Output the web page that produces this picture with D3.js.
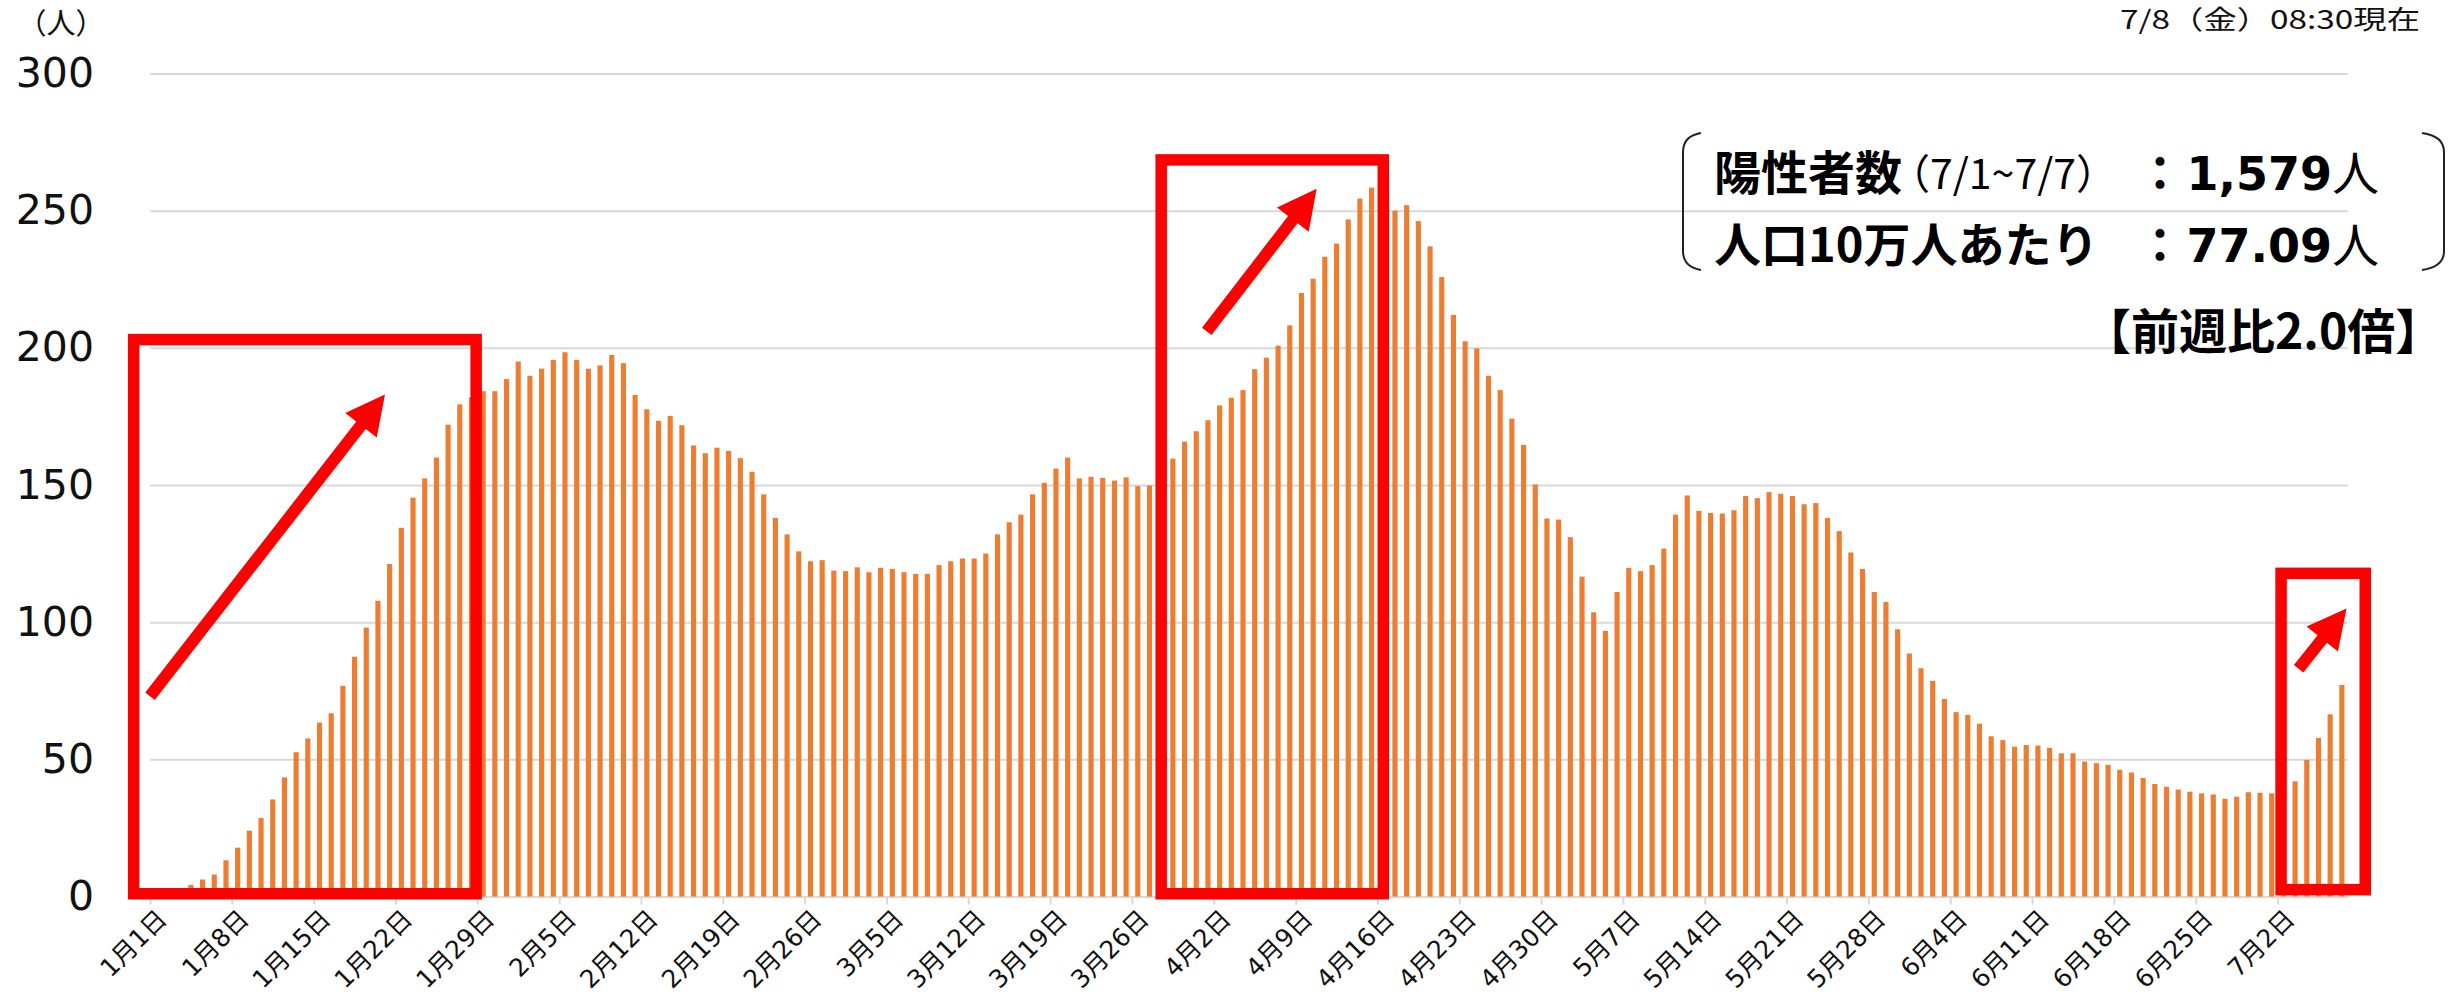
<!DOCTYPE html>
<html>
<head>
<meta charset="utf-8">
<script src="https://cdn.jsdelivr.net/npm/d3@7"></script>
<style>
	body { margin: 0; background: #fff; }
	svg { display: block; }
</style>
</head>
<body>
<script>
// weekly positives per 100k, one value per day
var jan = [2, 2.4, 3, 4.2, 6.2, 8, 13.2, 17.8, 24, 28.6, 35.4, 43.4, 52.6, 57.6, 63.4, 66.8, 76.8, 87.4, 98, 107.8,
	121.2, 134.4, 145.4, 152.4, 160, 172, 179.4, 182, 184.2, 184.2, 188.6];
var feb = [195, 189.8, 192.4, 195.6, 198.4, 195.6, 192.4, 193.6, 197.4, 194.4, 182.8, 177.6, 173.4, 175.2, 171.8,
	164.4, 161.6, 163.6, 162.4, 159.8, 154.8, 146.6, 138, 132, 125.8, 122.2, 122.6, 118.8];
var mar = [118.6, 120, 118.2, 119.8, 119.4, 118.2, 117.6, 117.6, 120.8, 122.2, 123.2, 123.2, 125, 132, 136.4, 139.2,
	146.6, 150.8, 156, 160, 152.4, 153, 152.6, 151.6, 152.8, 149.6, 149.8, 154, 159.6, 165.8, 169.6];
var apr = [173.6, 179, 181.8, 184.6, 192.2, 196.4, 200.8, 208.2, 220, 225.2, 233.2, 238, 246.8, 254.4, 258.4, 256,
	250, 252, 246.2, 237, 225.8, 212, 202.4, 199.8, 189.8, 184.6, 174.2, 164.6, 150.2, 137.8];
var may = [137.4, 131, 116.6, 103.6, 96.8, 111, 119.8, 118.6, 120.8, 126.8, 139.2, 146.2, 140.6, 139.8, 139.6, 140.8,
	146, 145.2, 147.4, 146.8, 146, 143, 143.4, 138, 133.2, 125.4, 119.4, 111, 107.4, 97.4, 88.6];
var jun = [83.2, 78.6, 72, 67.2, 66.2, 63, 58.4, 57, 54.6, 55.2, 55, 54.2, 52.2, 52.2, 49.2, 48.6, 48, 46.2, 45.2,
	43.2, 41, 40, 39, 38.2, 37.6, 37.2, 35.6, 36.4, 38, 37.8];
var jul = [37.6, 39.5, 42, 49.8, 57.8, 66.4, 77.09];

var tickLabels = ['1月1日', '1月8日', '1月15日', '1月22日', '1月29日', '2月5日', '2月12日', '2月19日', '2月26日',
	'3月5日', '3月12日', '3月19日', '3月26日', '4月2日', '4月9日', '4月16日', '4月23日', '4月30日', '5月7日',
	'5月14日', '5月21日', '5月28日', '6月4日', '6月11日', '6月18日', '6月25日', '7月2日'];
var yTicks = [0, 50, 100, 150, 200, 250, 300];

// red call-outs, in day index / value units
var boxes = [
	{start: -1.9, end: 27.4, top: 203, bottom: 1},
	{start: 86, end: 105, top: 268.5, bottom: 1},
	{start: 181.8, end: 189, top: 117.8, bottom: 2.5}
];
var arrows = [
	{from: [-0.5, 73], to: [19.6, 183]},
	{from: [89.9, 206], to: [99.3, 258]},
	{from: [183.3, 83], to: [187.4, 105]}
];

// ---------------------------- d3 -----------------------------------

var svgWidth = 2453, svgHeight = 1001;
var plotLeft = 150, plotRight = 2347.7, plotTop = 73.5, plotBottom = 896.5;

var days = [];
[jan, feb, mar, apr, may, jun, jul].forEach(function(list, m) {
	list.forEach(function(v, d) {
		days.push({label: (m + 1) + '月' + (d + 1) + '日', value: v});
	});
});

var svg = d3.select('body').append('svg').attr('width', svgWidth).attr('height', svgHeight);

var x = d3.scaleBand().domain(days.map(function(d) { return d.label; }))
	.range([plotLeft, plotRight]).paddingInner(0.56).paddingOuter(0.28);
var xi = d3.scaleLinear().domain([0, days.length]).range([plotLeft, plotRight]);
var y = d3.scaleLinear().domain([0, 300]).range([plotBottom, plotTop]);

function cx(idx) {
	return xi(idx + 0.5);
}

// grid + y labels
var gy = svg.append('g').attr('transform', 'translate(' + plotLeft + ',0)')
	.call(d3.axisLeft(y).tickValues(yTicks).tickSize(-(plotRight - plotLeft)).tickPadding(56));
gy.select('.domain').remove();
gy.selectAll('line').attr('stroke', '#d9d9d9').attr('stroke-width', 2);
gy.selectAll('text').attr('font-family', 'DejaVu Sans').attr('font-size', '41px').attr('fill', '#111');

// x axis
var tickIdx = tickLabels.map(function(l) {
	return days.findIndex(function(d) { return d.label === l; });
});
var gx = svg.append('g').attr('transform', 'translate(0,' + plotBottom + ')')
	.call(d3.axisBottom(xi).tickValues(tickIdx).tickSize(8).tickSizeOuter(0)
		.tickFormat(function(i) { return days[i].label; }));
gx.select('.domain').attr('stroke', '#d9d9d9').attr('stroke-width', 2);
gx.selectAll('line').attr('stroke', '#d9d9d9').attr('stroke-width', 2);
gx.selectAll('text')
	.attr('font-family', 'DejaVu Sans, Noto Sans CJK JP').attr('font-size', '25px').attr('fill', '#111')
	.attr('text-anchor', 'end').attr('y', 0).attr('dy', '0.35em')
	.attr('transform', 'translate(' + (x.step() / 2 + 6) + ',18) rotate(-45)');

// bars
svg.append('g').selectAll('rect').data(days).enter().append('rect')
	.attr('x', function(d) { return x(d.label); })
	.attr('width', x.bandwidth())
	.attr('y', function(d) { return y(d.value); })
	.attr('height', function(d) { return plotBottom - y(d.value); })
	.attr('fill', '#ED7D31');

// call-out boxes
svg.append('g').selectAll('rect').data(boxes).enter().append('rect')
	.attr('x', function(b) { return cx(b.start); })
	.attr('width', function(b) { return cx(b.end) - cx(b.start); })
	.attr('y', function(b) { return y(b.top); })
	.attr('height', function(b) { return y(b.bottom) - y(b.top); })
	.attr('fill', 'none').attr('stroke', '#ff0000').attr('stroke-width', 11.5);

function arrowPoints(a) {
	var x1 = cx(a.from[0]), y1 = y(a.from[1]), x2 = cx(a.to[0]), y2 = y(a.to[1]);
	var dx = x2 - x1, dy = y2 - y1, L = Math.sqrt(dx * dx + dy * dy);
	var ux = dx / L, uy = dy / L, nx = -uy, ny = ux;
	var hl = 39, hw = 20, sw = 6;
	var bx = x2 - ux * hl, by = y2 - uy * hl;
	return [[x1 + nx * sw, y1 + ny * sw], [bx + nx * sw, by + ny * sw], [bx + nx * hw, by + ny * hw], [x2, y2],
		[bx - nx * hw, by - ny * hw], [bx - nx * sw, by - ny * sw], [x1 - nx * sw, y1 - ny * sw]].join(' ');
}
svg.append('g').selectAll('polygon').data(arrows).enter().append('polygon')
	.attr('points', arrowPoints).attr('fill', '#ff0000');

// texts
svg.append('text').attr('x', 61).attr('y', 34).attr('text-anchor', 'middle')
	.attr('font-family', 'Noto Sans CJK JP').attr('font-size', '29px').attr('fill', '#111').text('（人）');
svg.append('text').attr('x', 2420).attr('y', 29).attr('text-anchor', 'end')
	.attr('textLength', 300).attr('lengthAdjust', 'spacingAndGlyphs')
	.attr('font-family', 'Noto Sans CJK JP').attr('font-size', '26px').attr('fill', '#111').text('7/8（金）08:30現在');

var note = svg.append('g').attr('font-family', 'Noto Sans CJK JP').attr('fill', '#000');
note.append('path').attr('d', 'M1701,133 Q1683,136 1683,152 L1683,251 Q1683,267 1701,270')
	.attr('fill', 'none').attr('stroke', '#222').attr('stroke-width', 2);
note.append('path').attr('d', 'M2422,133 Q2444,136 2444,152 L2444,251 Q2444,267 2422,270')
	.attr('fill', 'none').attr('stroke', '#222').attr('stroke-width', 2);

note.append('text').attr('x', 1714).attr('y', 190).attr('font-size', '47px').attr('font-weight', 700)
	.text('陽性者数');
note.append('text').attr('x', 1889).attr('y', 189).attr('font-size', '41px')
	.attr('textLength', 228).attr('lengthAdjust', 'spacingAndGlyphs').text('（7/1~7/7）');
note.append('text').attr('x', 1714).attr('y', 262).attr('font-size', '47px').attr('font-weight', 700)
	.text('人口10万人あたり');
[190, 262].forEach(function(by) {
	note.append('text').attr('x', 2160).attr('y', by).attr('text-anchor', 'middle')
		.attr('font-size', '47px').attr('font-weight', 700).text('：');
});
[['1,579', 190], ['77.09', 262]].forEach(function(v) {
	var t = note.append('text').attr('x', 2379).attr('y', v[1]).attr('text-anchor', 'end').attr('font-size', '47px');
	t.append('tspan').attr('font-family', 'DejaVu Sans').attr('font-weight', 700).attr('font-size', '46px').text(v[0]);
	t.append('tspan').text('人');
});
note.append('text').attr('x', 2083).attr('y', 349).attr('font-size', '48px').attr('font-weight', 700)
	.text('【前週比2.0倍】');
</script>
</body>
</html>
